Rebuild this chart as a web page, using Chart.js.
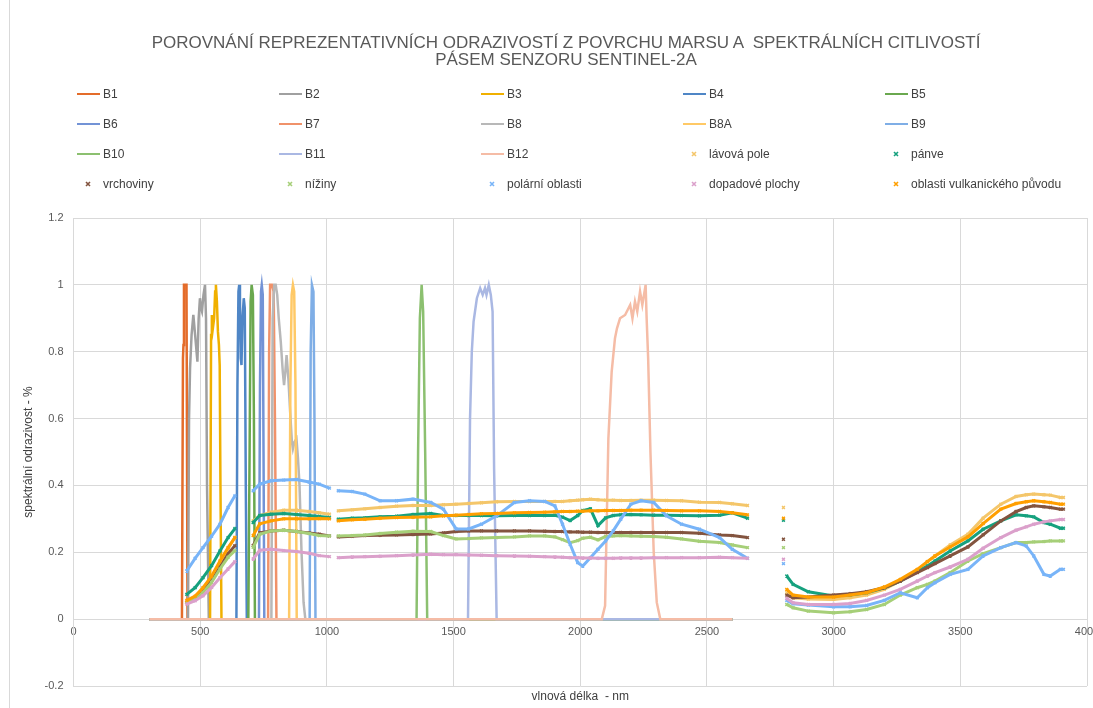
<!DOCTYPE html>
<html><head><meta charset="utf-8">
<script src="https://cdn.jsdelivr.net/npm/chart.js@4.4.1/dist/chart.umd.min.js"></script>
<style>
body{margin:0;background:#fff;}
#wrap{position:relative;width:1093px;height:708px;overflow:hidden;font-family:"Liberation Sans",Arial,sans-serif;background:#fff;}
#c{position:absolute;left:0;top:0;}
#frame{position:absolute;left:9px;top:0;width:1px;height:708px;background:#d9d9d9;}
#title{position:absolute;left:0;width:1132px;top:34px;text-align:center;font-size:17px;line-height:17px;color:#595959;white-space:pre;}
.li{position:absolute;height:16px;font-size:12px;line-height:16px;color:#404040;white-space:nowrap;}
.li .ln{position:absolute;left:0;top:7px;width:23px;height:2px;}
.li .mk{position:absolute;left:8px;top:5px;width:6px;height:6px;}
.li .tx{position:absolute;left:26px;top:0;}
</style></head>
<body>
<div id="wrap">
<canvas id="c" width="1093" height="708"></canvas>
<div id="frame"></div>
<div id="title">POROVNÁNÍ REPREZENTATIVNÍCH ODRAZIVOSTÍ Z POVRCHU MARSU A  SPEKTRÁLNÍCH CITLIVOSTÍ
PÁSEM SENZORU SENTINEL-2A</div>
<div id="legend"></div>
</div>
<script>
// ---- Sentinel-2A band spectral responses [wavelength nm, response] ----
const bandNames = ['B1','B2','B3','B4','B5','B6','B7','B8','B8A','B9','B10','B11','B12'];
const bandColors = ['#E46C2A','#A0A0A0','#F0B000','#4F86C6','#6AA84F','#7393D6','#F0926A','#B8B8B8','#FFC966','#7FAEE6','#8CC070','#AAB8E3','#F5BCA6'];
const B1 = [[300,0],[428,0],[432,0.78],[434,0.82],[436,1],[446,1],[450,0],[2600,0]];
const B2 = [[300,0],[452,0],[456,0.6],[460,0.75],[466,0.85],[473,0.91],[480,0.85],[489,0.77],[494,0.9],[499,0.96],[503,0.93],[507,0.92],[513,0.97],[519,1],[523,0.9],[527,0.4],[534,0],[2600,0]];
const B3 = [[300,0],[539,0],[543,0.85],[546,0.91],[550,0.87],[555,0.9],[559,0.98],[562,1],[566,0.95],[570,0.86],[574,0.82],[577,0.76],[580,0.4],[584,0],[2600,0]];
const B4 = [[300,0],[643,0],[647,0.7],[651,0.98],[654,1],[657,0.95],[660,0.78],[663,0.76],[667,0.9],[672,0.96],[676,0.93],[680,0.4],[684,0],[2600,0]];
const B5 = [[300,0],[690,0],[695,0.5],[699,0.95],[703,1],[708,0.97],[712,0.6],[716,0],[2600,0]];
const B6 = [[300,0],[732,0],[736,0.7],[740,0.98],[743,1],[747,0.97],[750,0.5],[753,0],[2600,0]];
const B7 = [[300,0],[768,0],[772,0.8],[776,1],[783,1],[790,0.98],[795,0.6],[801,0],[2600,0]];
const B8 = [[300,0],[781,0],[786,0.9],[792,1],[798,1],[804,0.97],[810,0.9],[818,0.83],[826,0.74],[831,0.7],[836,0.74],[841,0.79],[848,0.72],[855,0.62],[862,0.53],[866,0.51],[872,0.53],[880,0.54],[886,0.48],[892,0.4],[900,0.2],[908,0.05],[915,0],[2600,0]];
const B8A = [[300,0],[851,0],[856,0.7],[861,0.97],[866,1],[871,0.98],[876,0.7],[881,0],[2600,0]];
const B9 = [[300,0],[932,0],[936,0.8],[941,1],[947,0.98],[951,0.6],[955,0],[2600,0]];
const B10 = [[300,0],[1354,0],[1360,0.5],[1367,0.9],[1374,1],[1380,0.92],[1388,0.5],[1396,0],[2600,0]];
const B11 = [[300,0],[1557,0],[1565,0.6],[1572,0.8],[1579,0.89],[1592,0.96],[1605,0.99],[1615,0.97],[1624,0.99],[1630,0.97],[1639,1],[1647,0.97],[1654,0.92],[1660,0.45],[1670,0],[2600,0]];
const B12 = [[300,0],[2085,0],[2098,0.04],[2111,0.54],[2124,0.74],[2137,0.84],[2145,0.87],[2157,0.9],[2177,0.91],[2197,0.94],[2206,0.9],[2216,0.95],[2225,0.92],[2236,0.98],[2245,0.94],[2258,1],[2262,0.9],[2268,0.78],[2277,0.5],[2290,0.2],[2302,0.05],[2316,0],[2600,0]];
const bands = [B1,B2,B3,B4,B5,B6,B7,B8,B8A,B9,B10,B11,B12];

// ---- Mars surface reflectances (null = gap in the measurement) ----
const wavelengths = [447,480,511,545,578,610,637,675,
  709,735,780,830,880,930,970,1010,1028,
  1045,1100,1150,1210,1275,1340,1410,1460,1510,1560,1610,1670,1740,1800,1860,1900,1930,1960,1990,2010,2040,2070,2100,2130,2160,2200,2240,2290,2340,2400,2470,2550,2600,2660,2730,
  2802,2808,
  2815,2840,2900,3000,3065,3130,3200,3263,3330,3370,3400,3460,3530,3590,3660,3720,3760,3790,3830,3855,3895,3907];
const lavovaPole = [0.05,0.062,0.085,0.12,0.165,0.21,0.245,null,
  0.294,0.31,0.32,0.326,0.326,0.322,0.318,0.314,null,
  0.324,0.327,0.33,0.334,0.338,0.34,0.34,0.342,0.344,0.346,0.348,0.351,0.352,0.352,0.352,0.352,0.352,0.354,0.356,0.357,0.359,0.357,0.356,0.356,0.355,0.355,0.356,0.356,0.355,0.354,0.35,0.349,0.345,0.34,null,
  0.334,null,
  0.079,0.064,0.06,0.059,0.064,0.072,0.089,0.114,0.146,0.172,0.189,0.222,0.254,0.302,0.344,0.367,0.372,0.374,0.372,0.371,0.364,0.364];
const panve = [0.074,0.094,0.124,0.16,0.204,0.244,0.271,null,
  0.289,0.31,0.314,0.316,0.313,0.31,0.307,0.304,null,
  0.299,0.302,0.303,0.306,0.308,0.313,0.316,0.31,0.31,0.31,0.31,0.309,0.31,0.31,0.31,0.311,0.305,0.295,0.31,0.325,0.33,0.28,0.303,0.31,0.312,0.313,0.312,0.311,0.311,0.31,0.309,0.311,0.318,0.302,null,
  0.296,null,
  0.129,0.104,0.082,0.069,0.072,0.079,0.094,0.114,0.142,0.159,0.174,0.204,0.234,0.269,0.294,0.312,0.309,0.306,0.289,0.284,0.272,0.272];
const vrchoviny = [0.05,0.062,0.085,0.115,0.155,0.195,0.22,null,
  0.22,0.258,0.264,0.266,0.262,0.258,0.254,0.249,null,
  0.246,0.248,0.25,0.251,0.252,0.253,0.255,0.258,0.262,0.264,0.264,0.264,0.264,0.264,0.263,0.262,0.262,0.261,0.261,0.26,0.26,0.259,0.259,0.259,0.259,0.259,0.259,0.259,0.259,0.259,0.257,0.252,0.25,0.244,null,
  0.239,null,
  0.072,0.064,0.066,0.072,0.076,0.082,0.094,0.114,0.139,0.154,0.166,0.189,0.216,0.252,0.294,0.322,0.334,0.339,0.336,0.334,0.329,0.329];
const niziny = [0.05,0.06,0.08,0.11,0.15,0.185,0.205,null,
  0.215,0.254,0.264,0.266,0.262,0.256,0.25,0.249,null,
  0.249,0.25,0.252,0.256,0.26,0.263,0.262,0.25,0.24,0.241,0.243,0.244,0.246,0.249,0.249,0.246,0.238,0.229,0.235,0.242,0.245,0.237,0.247,0.249,0.25,0.249,0.248,0.247,0.245,0.24,0.233,0.229,0.222,0.214,null,
  0.214,null,
  0.044,0.034,0.024,0.019,0.022,0.029,0.044,0.072,0.094,0.104,0.114,0.139,0.174,0.196,0.214,0.229,0.229,0.231,0.232,0.234,0.234,0.234];
const polarniOblasti = [0.144,0.182,0.214,0.248,0.284,0.334,0.369,null,
  0.384,0.404,0.414,0.416,0.418,0.41,0.404,0.392,null,
  0.384,0.382,0.374,0.354,0.354,0.359,0.349,0.329,0.27,0.27,0.284,0.309,0.349,0.354,0.352,0.339,0.284,0.224,0.169,0.159,0.184,0.209,0.234,0.264,0.299,0.344,0.354,0.349,0.309,0.284,0.269,0.244,0.209,0.182,null,
  0.166,null,
  0.056,0.046,0.042,0.037,0.037,0.041,0.056,0.079,0.064,0.094,0.109,0.134,0.149,0.189,0.214,0.229,0.219,0.189,0.134,0.129,0.149,0.149];
const dopadovePlochy = [0.045,0.055,0.07,0.095,0.124,0.15,0.172,null,
  0.18,0.206,0.209,0.205,0.202,0.197,0.19,0.187,null,
  0.184,0.186,0.187,0.188,0.19,0.192,0.194,0.193,0.193,0.192,0.191,0.19,0.189,0.188,0.187,0.186,0.185,0.184,0.184,0.183,0.183,0.182,0.182,0.182,0.183,0.183,0.183,0.184,0.184,0.184,0.184,0.185,0.184,0.182,null,
  0.179,null,
  0.062,0.049,0.044,0.044,0.047,0.056,0.072,0.089,0.114,0.129,0.139,0.156,0.179,0.212,0.244,0.266,0.276,0.284,0.291,0.294,0.298,0.298];
const vulkanicke = [0.056,0.069,0.094,0.129,0.174,0.214,0.244,null,
  0.25,0.285,0.294,0.3,0.3,0.3,0.301,0.3,null,
  0.294,0.297,0.299,0.302,0.304,0.305,0.306,0.309,0.311,0.313,0.315,0.316,0.318,0.319,0.32,0.321,0.322,0.322,0.323,0.323,0.324,0.324,0.325,0.325,0.325,0.326,0.326,0.326,0.325,0.324,0.324,0.322,0.318,0.312,null,
  0.302,null,
  0.089,0.072,0.066,0.066,0.072,0.079,0.096,0.119,0.149,0.172,0.189,0.216,0.246,0.286,0.329,0.346,0.351,0.354,0.351,0.349,0.344,0.344];
const surfaceNames = ['lávová pole','pánve','vrchoviny','nížiny','polární oblasti','dopadové plochy','oblasti vulkanického původu'];
const surfaceColors = ['#F4C66A','#16A17E','#83543F','#A6CF78','#78B4F8','#DBA0CB','#FF9F00'];
const surfaces = [lavovaPole,panve,vrchoviny,niziny,polarniOblasti,dopadovePlochy,vulkanicke];

// tick labels
const xTicks = [0,500,1000,1500,2000,2500,3000,3500,4000];
const yTicks = [-0.2,0,0.2,0.4,0.6,0.8,1,1.2];

Chart.defaults.font.family = '"Liberation Sans", Arial, sans-serif';
Chart.defaults.color = '#595959';

const datasets = [];
bands.forEach((b,i)=>{
  datasets.push({label:bandNames[i], data:b.map(p=>({x:p[0],y:p[1]})), borderColor:bandColors[i], backgroundColor:bandColors[i],
    borderWidth:2.5, pointRadius:0, tension:0, fill:false, kind:'line'});
});
surfaces.forEach((s,i)=>{
  datasets.push({label:surfaceNames[i], data:wavelengths.map((w,j)=>({x:w,y:s[j]})), borderColor:surfaceColors[i], backgroundColor:surfaceColors[i],
    pointBorderColor:surfaceColors[i], borderWidth:3, pointRadius:2, pointStyle:'crossRot', pointBorderWidth:1.5, pointHoverRadius:2,
    spanGaps:false, tension:0, fill:false, kind:'marker'});
});
datasets.forEach((d,i)=>{ d.order = 100 - i; });

new Chart(document.getElementById('c'), {
  type:'line',
  data:{datasets},
  options:{
    responsive:false, animation:false, devicePixelRatio:1,
    layout:{padding:{top:218,right:6,left:0,bottom:0}},
    plugins:{legend:{display:false}, title:{display:false}, tooltip:{enabled:false}},
    scales:{
      x:{type:'linear', position:{y:0}, min:0, max:4000,
        afterBuildTicks(s){ s.ticks = xTicks.map(v=>({value:v})); },
        afterFit(s){ s.paddingLeft = 0; s.paddingRight = 0; },
        ticks:{color:'#595959', font:{size:11}, padding:6, maxRotation:0, autoSkip:false, callback:v=>String(v)},
        grid:{color:'#d9d9d9', drawTicks:false, lineWidth:1}, border:{color:'#d9d9d9'}},
      xt:{type:'linear', position:'bottom', min:0, max:1,
        ticks:{display:false}, grid:{display:false, drawTicks:false}, border:{display:false},
        title:{display:true, text:'vlnová délka  - nm', color:'#404040', font:{size:12}, padding:{top:0,bottom:4}},
        afterFit(s){ s.height = 22; s.paddingLeft = 0; s.paddingRight = 0; }},
      y:{type:'linear', min:-0.2, max:1.2,
        afterBuildTicks(s){ s.ticks = yTicks.map(v=>({value:v})); },
        ticks:{color:'#595959', font:{size:11}, padding:10, callback:v=>String(Math.round(v*10)/10)},
        grid:{color:'#d9d9d9', drawTicks:false}, border:{color:'#d9d9d9'},
        title:{display:true, text:'spektrální odrazivost - %', color:'#404040', font:{size:12}, padding:{top:21}},
        afterFit(s){ s.width = 73.5; }}
    }
  }
});

// HTML legend built from the same series lists (5 columns, 4 rows)
const legend = document.getElementById('legend');
datasets.forEach((d,i)=>{
  const col = i % 5, row = Math.floor(i / 5);
  const el = document.createElement('div');
  el.className = 'li';
  el.style.left = (77 + col*202) + 'px';
  el.style.top = (86 + row*30) + 'px';
  if (d.kind === 'line') {
    el.innerHTML = '<div class="ln" style="background:'+d.borderColor+'"></div><span class="tx"></span>';
  } else {
    el.innerHTML = '<svg class="mk" viewBox="0 0 6 6"><path d="M1 1L5 5M5 1L1 5" stroke="'+d.borderColor+'" stroke-width="1.6"/></svg><span class="tx"></span>';
  }
  el.querySelector('.tx').textContent = d.label;
  legend.appendChild(el);
});
</script>
</body></html>
